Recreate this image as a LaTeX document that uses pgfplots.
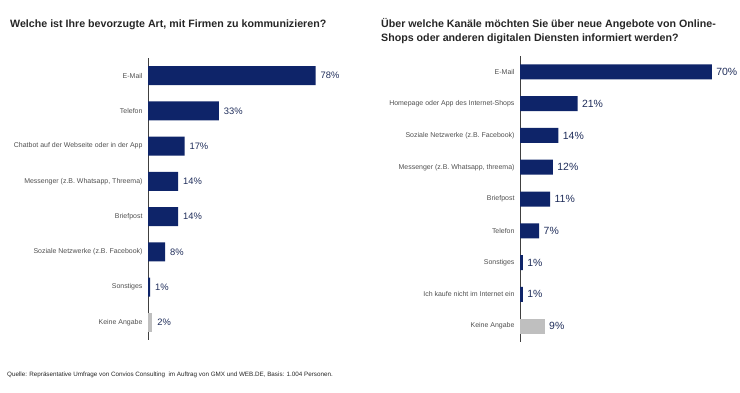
\documentclass[border=0pt]{standalone}
\usepackage{pgfplots}
\pgfplotsset{compat=1.18}
\usepackage{fontspec}
\setmainfont{Liberation Sans}
\definecolor{navy}{HTML}{0E2469}
\definecolor{lgray}{HTML}{BFBFBF}
\definecolor{txt}{HTML}{262626}
\definecolor{lbl}{HTML}{505050}
\definecolor{val}{HTML}{1F2D5A}

\pgfplotsset{
  hb/.style={
    xbar, scale only axis, xmin=0, xmax=100,
    y dir=reverse, axis x line=none, axis y line*=left,
    major tick length=0pt,
    y axis line style={draw=black!75, line width=0.8pt, -},
    yticklabel style={font=\fontsize{7.0}{8}\selectfont, text=lbl, xshift=-2bp},
    bar shift=0pt, point meta=x, clip=false,
    nodes near coords={\pgfmathprintnumber{\pgfplotspointmeta}\%},
    /pgf/number format/assume math mode=true,
  }
}

\begin{document}
\begin{tikzpicture}[x=1bp,y=1bp]
\useasboundingbox (0,0) rectangle (740,-392);
\node[anchor=base west, font=\bfseries\fontsize{10.7}{12}\selectfont, text=txt, inner sep=0] at (10,-27) {Welche ist Ihre bevorzugte Art, mit Firmen zu kommunizieren?};
\node[anchor=base west, font=\bfseries\fontsize{10.7}{12}\selectfont, text=txt, inner sep=0] at (381,-27) {Über welche Kanäle möchten Sie über neue Angebote von Online-};
\node[anchor=base west, font=\bfseries\fontsize{10.7}{12}\selectfont, text=txt, inner sep=0] at (381,-41) {Shops oder anderen digitalen Diensten informiert werden?};
\node[anchor=base west, font=\fontsize{6.3}{7}\selectfont, text=txt, inner sep=0] at (7,-376) {Quelle: Repräsentative Umfrage von Convios Consulting\ \ im Auftrag von GMX und WEB.DE, Basis: 1.004 Personen.};

\begin{axis}[hb, at={(148bp,-340bp)}, anchor=south west,
  width=215bp, height=282bp, ymin=-0.5, ymax=7.5,
  bar width=19bp,
  ytick={0,...,7},
  yticklabels={E-Mail, Telefon, Chatbot auf der Webseite oder in der App, {Messenger (z.B. Whatsapp, Threema)}, Briefpost, Soziale Netzwerke (z.B. Facebook), Sonstiges, Keine Angabe},
  nodes near coords style={font=\fontsize{9.4}{10}\selectfont, text=val, xshift=1.5bp},
]
\addplot[fill=navy, draw=none] coordinates {(78,0) (33,1) (17,2) (14,3) (14,4) (8,5) (1,6)};
\addplot[fill=lgray, draw=none] coordinates {(2,7)};
\end{axis}

\begin{axis}[hb, at={(520bp,-342bp)}, anchor=south west,
  width=274bp, height=286bp, ymin=-0.5, ymax=8.5,
  bar width=15bp,
  ytick={0,...,8},
  yticklabels={E-Mail, Homepage oder App des Internet-Shops, Soziale Netzwerke (z.B. Facebook), {Messenger (z.B. Whatsapp, threema)}, Briefpost, Telefon, Sonstiges, Ich kaufe nicht im Internet ein, Keine Angabe},
  nodes near coords style={font=\fontsize{10.5}{12}\selectfont, text=val, xshift=1bp},
]
\addplot[fill=navy, draw=none] coordinates {(70,0) (21,1) (14,2) (12,3) (11,4) (7,5) (1,6) (1,7)};
\addplot[fill=lgray, draw=none] coordinates {(9,8)};
\end{axis}
\end{tikzpicture}
\end{document}
